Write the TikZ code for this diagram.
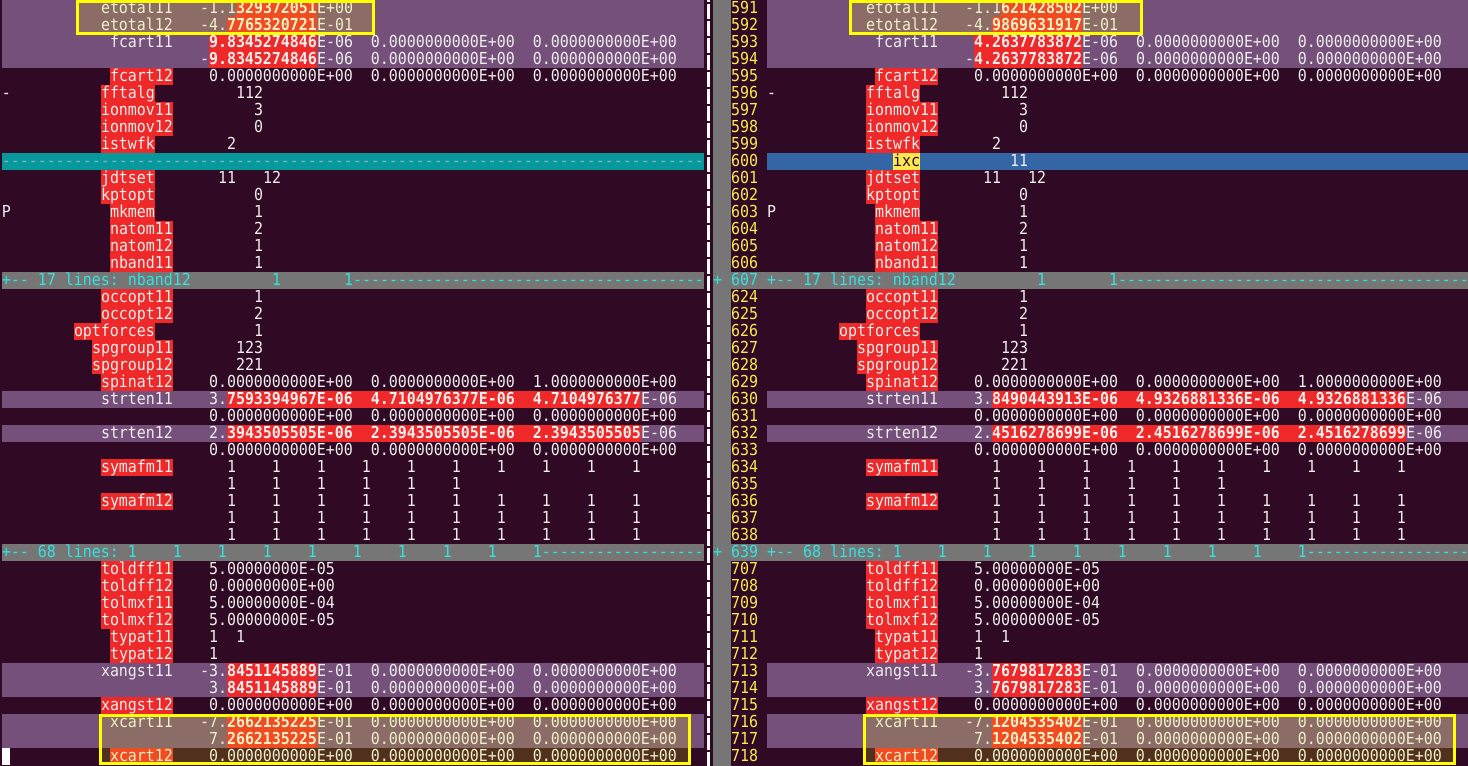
\documentclass[tikz,border=0pt]{standalone}
\usepackage{fontspec}
\setmonofont{DejaVu Sans Mono}[FakeStretch=0.906]
\usepackage{tikz}
\definecolor{vimbg}{HTML}{300A24}
\definecolor{chgpurple}{HTML}{75507B}
\definecolor{txtred}{HTML}{EF2929}
\definecolor{delteal}{HTML}{06989A}
\definecolor{addblue}{HTML}{3465A4}
\definecolor{foldgray}{HTML}{767676}
\definecolor{foldcyan}{HTML}{34E2E2}
\definecolor{numyel}{HTML}{FCE94F}
\definecolor{fgtext}{HTML}{EEEEEC}
\definecolor{filldash}{HTML}{80B0D8}
\definecolor{markyel}{HTML}{FFFF00}
\newcommand{\ltx}[4][]{\node[vtxt,#1] at ({2+9*(#3)},{17*(#2)+13.5}) {#4};}
\newcommand{\rtx}[4][]{\node[vtxt,#1] at ({767+9*(#3)},{17*(#2)+13.5}) {#4};}
\newcommand{\btx}[4][]{\ltx[#1]{#2}{#3}{#4}\rtx[#1]{#2}{#3}{#4}}
\newcommand{\lhl}[4]{\fill[#4] ({2+9*(#2)},{17*(#1)}) rectangle ({2+9*(#3)},{17*(#1)+17});}
\newcommand{\rhl}[4]{\fill[#4] ({767+9*(#2)},{17*(#1)}) rectangle ({767+9*(#3)},{17*(#1)+17});}
\newcommand{\bhl}[4]{\lhl{#1}{#2}{#3}{#4}\rhl{#1}{#2}{#3}{#4}}
\newcommand{\rnum}[3][numyel]{\node[vtxt,text=#1] at (731,{17*(#2)+13.5}) {#3};}
\newcommand{\zeros}{0.0000000000E+00~~0.0000000000E+00~~0.0000000000E+00}
\newcommand{\onesten}{1~~~~1~~~~1~~~~1~~~~1~~~~1~~~~1~~~~1~~~~1~~~~1}
\newcommand{\onessix}{1~~~~1~~~~1~~~~1~~~~1~~~~1}
\newcommand{\dashten}{----------}
\begin{document}
\begin{tikzpicture}[
      x=0.5pt, y=-0.5pt,
      vtxt/.style={anchor=base west,inner sep=0pt,outer sep=0pt,text=fgtext,
        font=\ttfamily\fontsize{8.25pt}{8.5pt}\selectfont},
      notebox/.style={draw=markyel,line width=1.5pt,fill=markyel,fill opacity=0.16}
      ]
      \useasboundingbox (0,0) rectangle (1468,766);
      \fill[vimbg] (0,0) rectangle (1468,766);
      \fill[foldgray] (713,0) rectangle (731,766);
      \draw[white,line width=1.5pt,dash pattern=on 7.5pt off 1pt] (708.5,-13.5) -- (708.5,766);
      \bhl{0}{0}{78}{chgpurple}
      \bhl{1}{0}{78}{chgpurple}
      \bhl{2}{0}{78}{chgpurple}
      \bhl{3}{0}{78}{chgpurple}
      \bhl{23}{0}{78}{chgpurple}
      \bhl{25}{0}{78}{chgpurple}
      \bhl{39}{0}{78}{chgpurple}
      \bhl{40}{0}{78}{chgpurple}
      \bhl{42}{0}{78}{chgpurple}
      \bhl{43}{0}{78}{chgpurple}
      \lhl{9}{0}{78}{delteal}
      \rhl{9}{0}{78}{addblue}
      \lhl{16}{0}{78}{foldgray}
      \rhl{16}{-4}{78}{foldgray}
      \lhl{32}{0}{78}{foldgray}
      \rhl{32}{-4}{78}{foldgray}
      \bhl{0}{26}{35}{txtred}
      \bhl{1}{25}{35}{txtred}
      \bhl{2}{23}{35}{txtred}
      \bhl{3}{23}{35}{txtred}
      \bhl{23}{25}{71}{txtred}
      \bhl{25}{25}{71}{txtred}
      \bhl{39}{25}{35}{txtred}
      \bhl{40}{25}{35}{txtred}
      \bhl{42}{25}{35}{txtred}
      \bhl{43}{25}{35}{txtred}
      \bhl{4}{12}{19}{txtred}
      \bhl{5}{11}{17}{txtred}
      \bhl{6}{11}{19}{txtred}
      \bhl{7}{11}{19}{txtred}
      \bhl{8}{11}{17}{txtred}
      \rhl{9}{14}{17}{numyel}
      \bhl{10}{11}{17}{txtred}
      \bhl{11}{11}{17}{txtred}
      \bhl{12}{12}{17}{txtred}
      \bhl{13}{12}{19}{txtred}
      \bhl{14}{12}{19}{txtred}
      \bhl{15}{12}{19}{txtred}
      \bhl{17}{11}{19}{txtred}
      \bhl{18}{11}{19}{txtred}
      \bhl{19}{8}{17}{txtred}
      \bhl{20}{10}{19}{txtred}
      \bhl{21}{10}{19}{txtred}
      \bhl{22}{11}{19}{txtred}
      \bhl{27}{11}{19}{txtred}
      \bhl{29}{11}{19}{txtred}
      \bhl{33}{11}{19}{txtred}
      \bhl{34}{11}{19}{txtred}
      \bhl{35}{11}{19}{txtred}
      \bhl{36}{11}{19}{txtred}
      \bhl{37}{12}{19}{txtred}
      \bhl{38}{12}{19}{txtred}
      \bhl{41}{11}{19}{txtred}
      \bhl{44}{12}{19}{txtred}
      \btx{0}{11}{etotal11}
      \btx{0}{22}{-1.1}
      \ltx{0}{26}{\bfseries 329372051}
      \rtx{0}{26}{\bfseries 621428502}
      \btx{0}{35}{E+00}
      \btx{1}{11}{etotal12}
      \btx{1}{22}{-4.}
      \ltx{1}{25}{\bfseries 7765320721}
      \rtx{1}{25}{\bfseries 9869631917}
      \btx{1}{35}{E-01}
      \btx{2}{12}{fcart11}
      \ltx{2}{23}{\bfseries 9.8345274846}
      \rtx{2}{23}{\bfseries 4.2637783872}
      \btx{2}{35}{E-06~~0.0000000000E+00~~0.0000000000E+00}
      \btx{3}{22}{-}
      \ltx{3}{23}{\bfseries 9.8345274846}
      \rtx{3}{23}{\bfseries 4.2637783872}
      \btx{3}{35}{E-06~~0.0000000000E+00~~0.0000000000E+00}
      \btx{4}{12}{fcart12}
      \btx{4}{23}{\zeros}
      \btx{5}{0}{-}
      \btx{5}{11}{fftalg}
      \btx{5}{26}{112}
      \btx{6}{11}{ionmov11}
      \btx{6}{28}{3}
      \btx{7}{11}{ionmov12}
      \btx{7}{28}{0}
      \btx{8}{11}{istwfk}
      \btx{8}{25}{2}
      \ltx[text=filldash]{9}{0}{\dashten\dashten\dashten\dashten\dashten\dashten\dashten--------}
      \rtx[text=vimbg]{9}{14}{ixc}
      \rtx{9}{27}{11}
      \btx{10}{11}{jdtset}
      \btx{10}{24}{11}
      \btx{10}{29}{12}
      \btx{11}{11}{kptopt}
      \btx{11}{28}{0}
      \btx{12}{0}{P}
      \btx{12}{12}{mkmem}
      \btx{12}{28}{1}
      \btx{13}{12}{natom11}
      \btx{13}{28}{2}
      \btx{14}{12}{natom12}
      \btx{14}{28}{1}
      \btx{15}{12}{nband11}
      \btx{15}{28}{1}
      \btx[text=foldcyan]{16}{0}{+-- 17 lines: nband12}
      \btx[text=foldcyan]{16}{30}{1}
      \btx[text=foldcyan]{16}{38}{1\dashten\dashten\dashten---------}
      \btx{17}{11}{occopt11}
      \btx{17}{28}{1}
      \btx{18}{11}{occopt12}
      \btx{18}{28}{2}
      \btx{19}{8}{optforces}
      \btx{19}{28}{1}
      \btx{20}{10}{spgroup11}
      \btx{20}{26}{123}
      \btx{21}{10}{spgroup12}
      \btx{21}{26}{221}
      \btx{22}{11}{spinat12}
      \btx{22}{23}{0.0000000000E+00~~0.0000000000E+00~~1.0000000000E+00}
      \btx{23}{11}{strten11}
      \btx{23}{23}{3.}
      \ltx{23}{25}{\bfseries 7593394967E-06~~4.7104976377E-06~~4.7104976377}
      \rtx{23}{25}{\bfseries 8490443913E-06~~4.9326881336E-06~~4.9326881336}
      \btx{23}{71}{E-06}
      \btx{24}{23}{\zeros}
      \btx{25}{11}{strten12}
      \btx{25}{23}{2.}
      \ltx{25}{25}{\bfseries 3943505505E-06~~2.3943505505E-06~~2.3943505505}
      \rtx{25}{25}{\bfseries 4516278699E-06~~2.4516278699E-06~~2.4516278699}
      \btx{25}{71}{E-06}
      \btx{26}{23}{\zeros}
      \btx{27}{11}{symafm11}
      \btx{27}{25}{\onesten}
      \btx{28}{25}{\onessix}
      \btx{29}{11}{symafm12}
      \btx{29}{25}{\onesten}
      \btx{30}{25}{\onesten}
      \btx{31}{25}{\onesten}
      \btx[text=foldcyan]{32}{0}{+-- 68 lines: \onesten\dashten--------}
      \btx{33}{11}{toldff11}
      \btx{33}{23}{5.00000000E-05}
      \btx{34}{11}{toldff12}
      \btx{34}{23}{0.00000000E+00}
      \btx{35}{11}{tolmxf11}
      \btx{35}{23}{5.00000000E-04}
      \btx{36}{11}{tolmxf12}
      \btx{36}{23}{5.00000000E-05}
      \btx{37}{12}{typat11}
      \btx{37}{23}{1}
      \btx{37}{26}{1}
      \btx{38}{12}{typat12}
      \btx{38}{23}{1}
      \btx{39}{11}{xangst11}
      \btx{39}{22}{-3.}
      \ltx{39}{25}{\bfseries 8451145889}
      \rtx{39}{25}{\bfseries 7679817283}
      \btx{39}{35}{E-01~~0.0000000000E+00~~0.0000000000E+00}
      \btx{40}{23}{3.}
      \ltx{40}{25}{\bfseries 8451145889}
      \rtx{40}{25}{\bfseries 7679817283}
      \btx{40}{35}{E-01~~0.0000000000E+00~~0.0000000000E+00}
      \btx{41}{11}{xangst12}
      \btx{41}{23}{\zeros}
      \btx{42}{12}{xcart11}
      \btx{42}{22}{-7.}
      \ltx{42}{25}{\bfseries 2662135225}
      \rtx{42}{25}{\bfseries 1204535402}
      \btx{42}{35}{E-01~~0.0000000000E+00~~0.0000000000E+00}
      \btx{43}{23}{7.}
      \ltx{43}{25}{\bfseries 2662135225}
      \rtx{43}{25}{\bfseries 1204535402}
      \btx{43}{35}{E-01~~0.0000000000E+00~~0.0000000000E+00}
      \btx{44}{12}{xcart12}
      \btx{44}{23}{\zeros}
      \fill[white] (2,748) rectangle (10,765);
      \rnum{0}{591}
      \rnum{1}{592}
      \rnum{2}{593}
      \rnum{3}{594}
      \rnum{4}{595}
      \rnum{5}{596}
      \rnum{6}{597}
      \rnum{7}{598}
      \rnum{8}{599}
      \rnum{9}{600}
      \rnum{10}{601}
      \rnum{11}{602}
      \rnum{12}{603}
      \rnum{13}{604}
      \rnum{14}{605}
      \rnum{15}{606}
      \rnum[foldcyan]{16}{607}
      \rnum{17}{624}
      \rnum{18}{625}
      \rnum{19}{626}
      \rnum{20}{627}
      \rnum{21}{628}
      \rnum{22}{629}
      \rnum{23}{630}
      \rnum{24}{631}
      \rnum{25}{632}
      \rnum{26}{633}
      \rnum{27}{634}
      \rnum{28}{635}
      \rnum{29}{636}
      \rnum{30}{637}
      \rnum{31}{638}
      \rnum[foldcyan]{32}{639}
      \rnum{33}{707}
      \rnum{34}{708}
      \rnum{35}{709}
      \rnum{36}{710}
      \rnum{37}{711}
      \rnum{38}{712}
      \rnum{39}{713}
      \rnum{40}{714}
      \rnum{41}{715}
      \rnum{42}{716}
      \rnum{43}{717}
      \rnum{44}{718}
      \node[vtxt,text=foldcyan] at (713,{17*16+13.5}) {+};
      \node[vtxt,text=foldcyan] at (713,{17*32+13.5}) {+};
      \draw[notebox] (77.5,1.5) rectangle (373.5,33.5);
      \draw[notebox] (850.5,1.5) rectangle (1141.5,33.5);
      \draw[notebox] (100,715.5) rectangle (689.5,763.5);
      \draw[notebox] (864.5,715.5) rectangle (1454.5,763.5);
    \end{tikzpicture}
\end{document}
